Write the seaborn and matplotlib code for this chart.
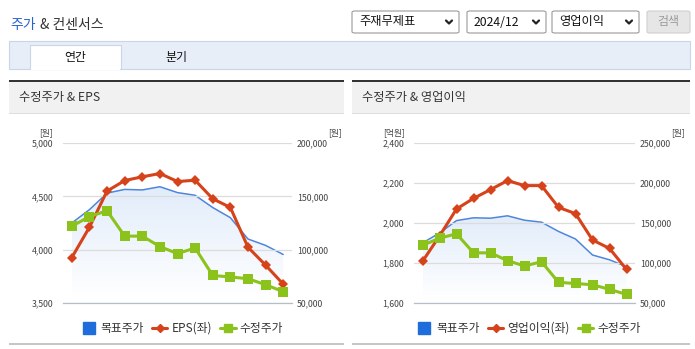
import numpy as np
import pandas as pd
import matplotlib
matplotlib.use("Agg")
import matplotlib.pyplot as plt
import seaborn as sns
from matplotlib.patches import Rectangle, FancyBboxPatch
from matplotlib.lines import Line2D
from matplotlib.colors import LinearSegmentedColormap

# ---------------- data ----------------
months = ["23/05", "23/06", "23/07", "23/08", "23/09", "23/10", "23/11",
          "23/12", "24/01", "24/02", "24/03", "24/04", "24/05"]
tick_labels = ["23/05", "23/07", "23/09", "23/11", "24/01", "24/03", "24/05"]
target_price = [125000, 137500, 153000, 156500, 156000, 159000, 153500,
                151000, 139500, 130000, 110000, 104000, 95500]
adj_price = [122000, 131000, 136500, 112700, 112700, 102900, 96300,
             101600, 75800, 74400, 72800, 67100, 60700]
eps = [3926, 4210, 4549, 4648, 4683, 4714, 4639, 4651, 4477, 4396, 4023, 3855, 3677]
op_income = [1808, 1935, 2070, 2123, 2167, 2212, 2187, 2187, 2078, 2047, 1915, 1873, 1768]

# ---------------- style ----------------
sns.set_theme(style="white")
plt.rcParams["font.family"] = ["Noto Sans CJK KR", "DejaVu Sans"]

W, H = 695, 349
fig = plt.figure(figsize=(W / 100, H / 100), dpi=100)
fig.patch.set_facecolor("white")

RED = "#d6431b"
GREEN = "#8cc21c"
BLUE_LINE = "#4f86dc"
BLUE_SQ = "#1f6ddb"
TXT = "#444444"


def fx(x):
    return x / W


def fy(y):
    return 1 - y / H


def rect(x, y, w, h, fc, ec="none", lw=0, rounded=False, z=0):
    if rounded:
        p = FancyBboxPatch((fx(x), fy(y + h)), w / W, h / H,
                           boxstyle="round,pad=0,rounding_size=0.004",
                           transform=fig.transFigure, fc=fc, ec=ec, lw=lw, zorder=z)
    else:
        p = Rectangle((fx(x), fy(y + h)), w / W, h / H, transform=fig.transFigure,
                      fc=fc, ec=ec, lw=lw, zorder=z)
    fig.add_artist(p)


def chevron(cx, cy):
    fig.add_artist(Line2D([fx(cx - 3), fx(cx), fx(cx + 3)], [fy(cy - 1.5), fy(cy + 1.5), fy(cy - 1.5)],
                          transform=fig.transFigure, color="#222222", lw=1.6))


# ---------------- page header ----------------
fig.text(fx(10), fy(25), "주가", color="#2a62d0", fontsize=10, va="center", ha="left")
fig.text(fx(40), fy(25), "& 컨센서스", color="#333333", fontsize=10, va="center", ha="left")

for (x0, x1, label) in [(352, 459, "주재무제표"), (467, 546, "2024/12"), (552, 639, "영업이익")]:
    rect(x0, 11, x1 - x0, 22, "white", "#9a9a9a", 0.8, rounded=True)
    fig.text(fx(x0 + 7), fy(22), label, fontsize=8.8, color="#111111", va="center", ha="left")
    chevron(x1 - 10, 22)
rect(647, 11, 43, 22, "#e6e6e6", "#cfcfcf", 0.8, rounded=True)
fig.text(fx(668), fy(22), "검색", fontsize=8.6, color="#9a9a9a", va="center", ha="center")

# tabs
rect(9, 41, 681, 28, "#e8eef8", "#c9d5e8", 0.8)
rect(30, 45, 91, 24, "white", "#c9d5e8", 0.8)
rect(30.6, 67, 89.8, 3, "white")
fig.text(fx(75.5), fy(57.5), "연간", fontsize=8.6, color="#111111", va="center", ha="center")
fig.text(fx(176), fy(57.5), "분기", fontsize=8.6, color="#111111", va="center", ha="center")


def panel(x0, x1, title):
    rect(x0, 80, x1 - x0, 33, "#f1f1f1")
    rect(x0, 80, x1 - x0, 2, "#333333")
    rect(x0, 112.5, x1 - x0, 1, "#dddddd")
    rect(x0, 342.5, x1 - x0, 2, "#c6c6c6")
    fig.text(fx(x0 + 10), fy(98), title, fontsize=8.8, color="#333333", va="center", ha="left")


panel(9, 344, "수정주가 & EPS")
panel(352, 690, "수정주가 & 영업이익")

# ---------------- charts ----------------
x = np.arange(len(months))
grad_cmap = LinearSegmentedColormap.from_list("g", ["#ffffff", "#e1ecfa"])


def make_chart(x0, x1, left_vals, left_lim, left_ticks, right_lim, right_ticks,
               left_unit, left_unit_x, left_name):
    y0, y1 = 143, 303
    ax = fig.add_axes([fx(x0), fy(y1), (x1 - x0) / W, (y1 - y0) / H])
    ax2 = ax.twinx()   # target price + fill
    ax3 = ax.twinx()   # adjusted price (top)
    ax2.set_zorder(1)
    ax.set_zorder(2)
    ax3.set_zorder(3)
    ax.patch.set_visible(False)
    ax3.patch.set_visible(False)

    df = pd.DataFrame({"x": x, "target": target_price, "price": adj_price, "left": left_vals})

    # gradient fill under target price
    poly = ax2.fill_between(df["x"], df["target"], right_lim[0], color="none", lw=0)
    grad = np.linspace(1, 0, 256).reshape(-1, 1)
    im = ax2.imshow(grad, extent=[0, 12, right_lim[0] + 4000, 160000], aspect="auto",
                    cmap=grad_cmap, vmin=0, vmax=1, origin="upper", zorder=1)
    im.set_clip_path(poly.get_paths()[0], transform=ax2.transData)

    sns.lineplot(data=df, x="x", y="target", ax=ax2, color=BLUE_LINE, lw=1.1, zorder=3)
    sns.lineplot(data=df, x="x", y="left", ax=ax, color=RED, lw=2.2, marker="D",
                 markersize=5.5, markeredgewidth=0, zorder=3)
    sns.lineplot(data=df, x="x", y="price", ax=ax3, color=GREEN, lw=2.2, marker="s",
                 markersize=7, markeredgewidth=0, zorder=3)

    for a in (ax, ax2, ax3):
        a.set_xlim(-0.5, 12.5)
        a.set_xlabel("")
        a.set_ylabel("")
        for s in a.spines.values():
            s.set_visible(False)
    ax.set_ylim(*left_lim)
    ax2.set_ylim(*right_lim)
    ax3.set_ylim(*right_lim)
    ax3.set_yticks([])

    ax.set_yticks(left_ticks)
    ax.set_yticklabels([f"{v:,}" for v in left_ticks])
    ax2.set_yticks(right_ticks)
    ax2.set_yticklabels([f"{v:,}" for v in right_ticks])
    ax.tick_params(axis="y", length=0, pad=7, labelsize=6.3, labelcolor=TXT)
    ax2.tick_params(axis="y", length=0, pad=3.5, labelsize=6.3, labelcolor=TXT)
    ax.yaxis.grid(True, color="#dcdcdc", lw=0.9)
    ax.set_axisbelow(True)

    ax.set_xticks(x[::2])
    ax.set_xticklabels(tick_labels)
    ax.set_xticks([-0.5, 0.5, 2.5, 4.5, 6.5, 8.5, 10.5, 12.5], minor=True)
    ax.tick_params(axis="x", which="major", length=0, pad=4, labelsize=6.3, labelcolor=TXT)
    ax.tick_params(axis="x", which="minor", length=4, width=0.8, color="#b5bfcc", direction="out")
    ax2.set_xticks([])
    ax3.set_xticks([])
    ax.spines["bottom"].set_visible(True)
    ax.spines["bottom"].set_color("#b5bfcc")
    ax.spines["bottom"].set_linewidth(0.9)

    # unit labels
    fig.text(fx(left_unit_x), fy(133), left_unit, fontsize=6.3, color=TXT, ha="right", va="center")
    fig.text(fx(x1 + 50), fy(133), "[원]", fontsize=6.3, color=TXT, ha="right", va="center")

    handles = [
        Line2D([], [], color=BLUE_SQ, marker="s", markersize=8.5, lw=0),
        Line2D([], [], color=RED, marker="D", markersize=4.5, lw=2.2),
        Line2D([], [], color=GREEN, marker="s", markersize=6, lw=2.2),
    ]
    leg = ax.legend(handles, ["목표주가", left_name, "수정주가"], loc="center",
                    bbox_to_anchor=(0.52, -0.158), ncol=3, frameon=False,
                    fontsize=8.5, handlelength=1.3, handletextpad=0.35,
                    columnspacing=0.7, borderaxespad=0)
    for t in leg.get_texts():
        t.set_color("#333333")
    return ax


make_chart(63, 292, eps, (3500, 5000), [3500, 4000, 4500, 5000],
           (50000, 200000), [50000, 100000, 150000, 200000],
           "[원]", 53, "EPS(좌)")
make_chart(414, 635, op_income, (1600, 2400), [1600, 1800, 2000, 2200, 2400],
           (50000, 250000), [50000, 100000, 150000, 200000, 250000],
           "[억원]", 405, "영업이익(좌)")

fig.savefig("out.png", dpi=100, facecolor="white")
